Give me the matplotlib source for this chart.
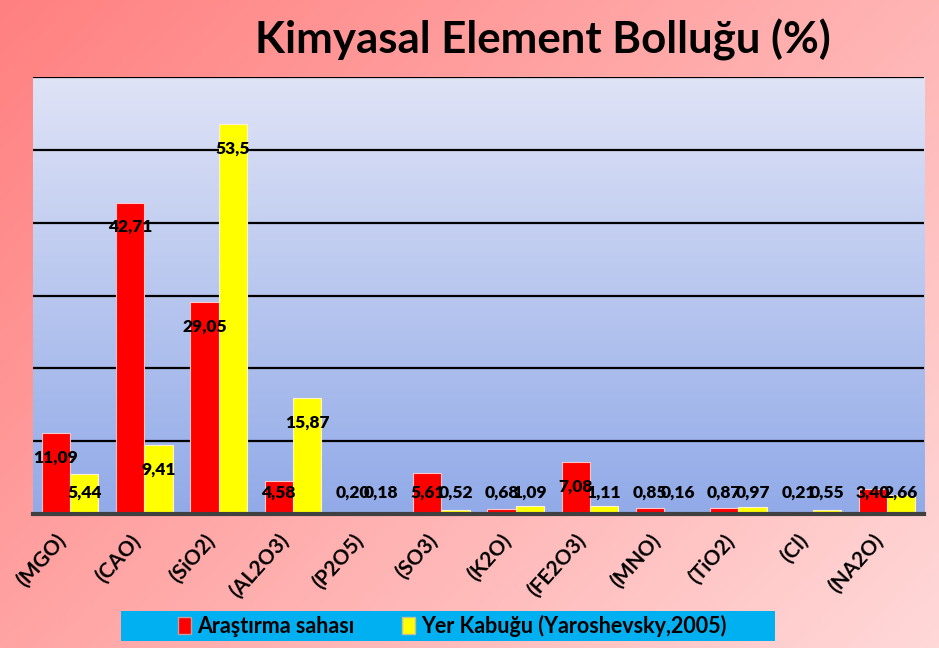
import numpy as np
import matplotlib.pyplot as plt
from matplotlib.patches import Rectangle, Patch

# Element oxide abundances (%)
categories = ['(MGO)', '(CAO)', '(SiO2)', '(AL2O3)', '(P2O5)', '(SO3)',
              '(K2O)', '(FE2O3)', '(MNO)', '(TiO2)', '(Cl)', '(NA2O)']
saha = [11.09, 42.71, 29.05, 4.58, 0.20, 5.61, 0.68, 7.08, 0.85, 0.87, 0.21, 3.40]
kabuk = [5.44, 9.41, 53.5, 15.87, 0.18, 0.52, 1.09, 1.11, 0.16, 0.97, 0.55, 2.66]
saha_labels = ['11,09', '42,71', '29,05', '4,58', '0,20', '5,61',
               '0,68', '7,08', '0,85', '0,87', '0,21', '3,40']
kabuk_labels = ['5,44', '9,41', '53,5', '15,87', '0,18', '0,52',
                '1,09', '1,11', '0,16', '0,97', '0,55', '2,66']
series_names = ['Araştırma sahası', 'Yer Kabuğu (Yaroshevsky,2005)']

plt.rcParams['font.family'] = ['Lato', 'DejaVu Sans']

fig = plt.figure(figsize=(9.39, 6.48), dpi=100)
fig.patch.set_edgecolor('#d0d0d0')
fig.patch.set_linewidth(2)

# pink diagonal gradient behind everything
bg = fig.add_axes([0, 0, 1, 1], zorder=-10)
gx, gy = np.meshgrid(np.linspace(0, 1, 200), np.linspace(0, 1, 200))
t = (gx * 0.6 + gy * 0.4)
c0 = np.array([255, 128, 128]) / 255
c1 = np.array([255, 216, 216]) / 255
grad = c0 + (c1 - c0) * t[..., None]
bg.imshow(grad, extent=[0, 1, 0, 1], aspect='auto', origin='upper')
bg.axis('off')

ax = fig.add_axes([0.0351, 0.2068, 0.9489, 0.6742])
x = np.arange(len(categories))
w = 0.38

ax.set_xlim(-0.5, len(categories) - 0.5)
ax.set_ylim(0, 60)

# blue vertical gradient for the plot area
pg = np.linspace(0, 1, 256)[:, None]
top = np.array([223, 227, 246]) / 255
bot = np.array([145, 170, 232]) / 255
pgrad = top + (bot - top) * pg[..., None]
pgrad = np.repeat(pgrad, 2, axis=1)
ax.imshow(pgrad, extent=[-0.5, len(categories) - 0.5, 0, 60],
          aspect='auto', origin='upper', zorder=0)

for yv in range(10, 61, 10):
    ax.axhline(yv, color='black', lw=1.6, zorder=1)

b1 = ax.bar(x - w / 2, saha, w, color='#ff0000', edgecolor='#ffc8c8', lw=0.8, zorder=2)
b2 = ax.bar(x + w / 2, kabuk, w, color='#ffff00', edgecolor='#fff0d0', lw=0.8, zorder=2)

ax.axhline(0, color='#404040', lw=3, zorder=3, clip_on=False)

# value labels just inside the bar ends, kept above the base line
for xs, vals, labs in [(x - w / 2, saha, saha_labels), (x + w / 2, kabuk, kabuk_labels)]:
    for xi, v, lab in zip(xs, vals, labs):
        ax.text(xi, max(v - 3.3, 2.9), lab, ha='center', va='center',
                fontsize=12.5, fontweight='heavy', color='black', zorder=4)

ax.set_xticks(x)
ax.set_xticklabels(categories, rotation=48, ha='right', va='top',
                   fontsize=15, fontweight='bold')
ax.tick_params(axis='x', length=0, pad=12)
ax.set_yticks([])
for s in ax.spines.values():
    s.set_visible(False)

fig.text(0.578, 0.938, 'Kimyasal Element Bolluğu (%)', ha='center', va='center',
         fontsize=31.5, fontweight='bold', color='black')

# legend on a cyan strip
fig.patches.append(Rectangle((121 / 939, 1 - 641 / 648), 654 / 939, 30 / 648,
                             transform=fig.transFigure, facecolor='#00b0f0',
                             edgecolor='none', zorder=1))
handles = [Patch(facecolor='#ff0000', edgecolor='#c0a0a0'),
           Patch(facecolor='#ffff00', edgecolor='#c0c0a0')]
leg = fig.legend(handles, series_names, ncol=2, loc='center',
                 bbox_to_anchor=(452 / 939, 1 - 626 / 648), frameon=False,
                 prop={'weight': 'bold', 'size': 15.5}, handlelength=0.6,
                 handleheight=0.8, handletextpad=0.3, columnspacing=2.2)
leg.set_zorder(5)

fig.savefig('out.png', dpi=100)
